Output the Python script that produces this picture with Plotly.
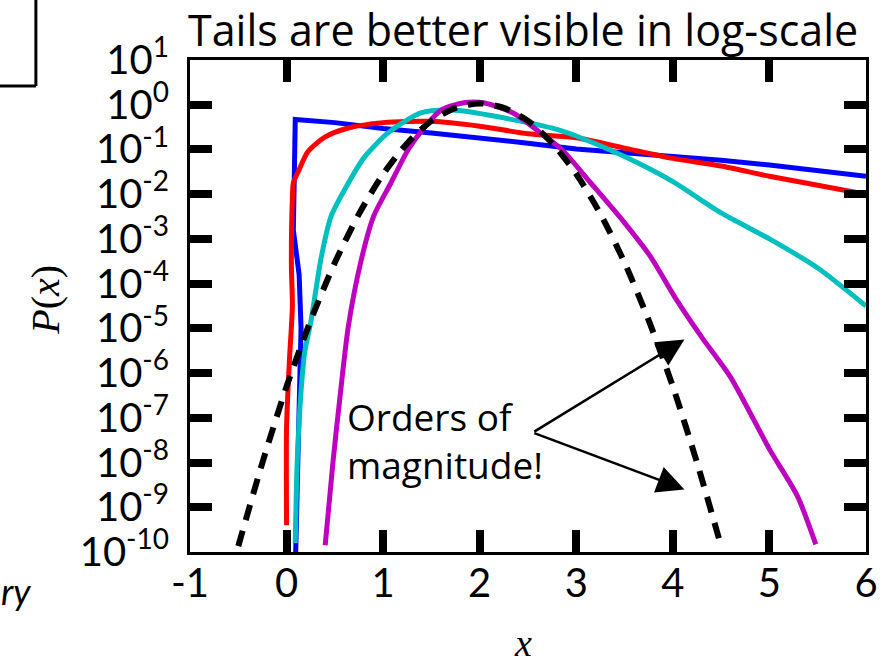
import plotly.graph_objects as go

# ---- data: x positions and log10 of P(x) for each curve ----
blue_x = [0.09, 0.12, 0.15, 0.13, 0.07, 0.08, 0.09, 0.5, 1.0, 1.5, 2.0, 2.5, 3.0, 3.5, 4.0, 4.5, 5.0, 5.5, 6.0]
blue_logp = [-10.4, -7.0, -5.0, -3.8, -2.8, -1.6, -0.33, -0.40, -0.53, -0.63, -0.74, -0.86, -0.99, -1.07, -1.15,
             -1.24, -1.35, -1.47, -1.60]

red_x = [0.0, 0.0, 0.03, 0.06, 0.05, 0.06, 0.07, 0.12, 0.22, 0.4, 0.64, 1.0, 1.5, 2.0, 2.5, 3.0, 3.5, 4.0, 4.5,
         5.0, 5.5, 6.0]
red_logp = [-9.4, -7.2, -5.7, -4.5, -3.6, -2.1, -1.75, -1.5, -1.05, -0.72, -0.52, -0.40, -0.37, -0.48, -0.65,
            -0.74, -0.97, -1.20, -1.37, -1.60, -1.80, -2.00]

cyan_x = [0.09, 0.11, 0.15, 0.19, 0.25, 0.36, 0.46, 0.64, 0.81, 1.05, 1.39, 1.72, 2.19, 2.8, 3.0, 3.5, 4.0, 4.5,
          5.0, 5.5, 6.0]
cyan_logp = [-9.8, -8.0, -6.4, -5.5, -4.87, -3.4, -2.5, -1.75, -1.16, -0.63, -0.18, -0.12, -0.27, -0.55, -0.70,
             -1.16, -1.72, -2.42, -3.0, -3.65, -4.50]

magenta_x = [0.4, 0.48, 0.56, 0.64, 0.77, 0.9, 1.08, 1.26, 1.43, 1.6, 1.85, 2.05, 2.36, 2.63, 2.85, 3.15, 3.5,
             3.77, 4.02, 4.3, 4.6, 5.0, 5.29, 5.48]
magenta_logp = [-9.85, -8.0, -6.4, -4.95, -3.5, -2.5, -1.75, -1.0, -0.5, -0.12, 0.05, 0.04, -0.2, -0.63, -1.0,
                -1.75, -2.64, -3.4, -4.3, -5.2, -6.1, -7.7, -8.75, -9.83]

gauss_x = [-0.5, -0.25, 0.0, 0.25, 0.5, 0.75, 1.0, 1.25, 1.5, 1.75, 2.0, 2.25, 2.5, 2.75, 3.0, 3.25, 3.5, 3.75,
           4.0, 4.25, 4.5]
gauss_logp = [-9.87, -8.0, -6.3, -4.82, -3.53, -2.44, -1.55, -0.86, -0.36, -0.07, 0.03, -0.07, -0.36, -0.86,
              -1.55, -2.44, -3.53, -4.82, -6.3, -8.0, -9.87]

x_ticks = [-1, 0, 1, 2, 3, 4, 5, 6]
x_ticklabels = ["-1", "0", "1", "2", "3", "4", "5", "6"]
y_exponents = [1, 0, -1, -2, -3, -4, -5, -6, -7, -8, -9, -10]

title_text = "Tails are better visible in log-scale"
note_text = "Orders of<br>magnitude!"

SANS = "Lato"
WIDE_SANS = "Open Sans"
SERIF = "Liberation Serif"

fig = go.Figure()

curves = [
    (blue_x, blue_logp, "#0000FF", "solid", "linear"),
    (red_x, red_logp, "#FF0000", "solid", "spline"),
    (cyan_x, cyan_logp, "#00BFBF", "solid", "spline"),
    (magenta_x, magenta_logp, "#BF00BF", "solid", "spline"),
    (gauss_x, gauss_logp, "#000000", "16px,11px", "spline"),
]
for xs, logs, color, dash, shape in curves:
    fig.add_trace(go.Scatter(
        x=xs, y=[10 ** v for v in logs], mode="lines",
        line=dict(color=color, width=5 if dash == "solid" else 6, dash=dash,
                  shape=shape, smoothing=0.7),
        hoverinfo="skip", showlegend=False,
    ))

axis_common = dict(
    ticks="inside", ticklen=22, tickwidth=8, tickcolor="black",
    showline=True, linewidth=3, linecolor="black", mirror="ticks",
    showgrid=False, zeroline=False,
    tickfont=dict(family=SANS, size=40, color="black"),
)

fig.update_xaxes(range=[-1, 6], tickmode="array", tickvals=x_ticks, ticktext=x_ticklabels,
                 ticklabelstandoff=-6, **axis_common)
fig.update_yaxes(type="log", range=[-10, 1], tickmode="array",
                 tickvals=[10 ** e for e in y_exponents],
                 ticktext=[f"10<sup>{e}</sup>" for e in y_exponents],
                 ticklabelstandoff=10, **axis_common)

annotations = [
    dict(text=title_text, xref="paper", yref="paper", x=-0.006, y=1.062, xanchor="left",
         yanchor="middle", showarrow=False, font=dict(family=WIDE_SANS, size=43, color="black")),
    dict(text="<i>P</i>(<i>x</i>)", xref="paper", yref="paper", x=-0.215, y=0.512, textangle=-90,
         xanchor="center", yanchor="middle", showarrow=False,
         font=dict(family=SERIF, size=40, color="black")),
    dict(text="<i>x</i>", xref="paper", yref="paper", x=0.4926, y=-0.2317, xanchor="center",
         yanchor="bottom", showarrow=False, font=dict(family=SERIF, size=38, color="black")),
    dict(text="<i>ry</i>", xref="paper", yref="paper", x=-0.283, y=-0.08, xanchor="left",
         yanchor="middle", showarrow=False, font=dict(family=SANS, size=36, color="black")),
    dict(text=note_text, xref="x", yref="y", x=0.61, y=-7.5, xanchor="left", yanchor="middle",
         align="left", showarrow=False, font=dict(family=WIDE_SANS, size=37, color="black")),
]
for head_y in (-5.25, -8.6):
    annotations.append(dict(
        text="", xref="x", yref="y", x=4.12, y=head_y, axref="x", ayref="y", ax=2.55, ay=-7.33,
        showarrow=True, arrowhead=2, arrowsize=2.1, arrowwidth=2.6, arrowcolor="black", standoff=0,
    ))

fig.update_layout(
    width=895, height=664,
    margin=dict(l=190, r=29, t=60, b=112),
    paper_bgcolor="white", plot_bgcolor="white",
    annotations=annotations,
    shapes=[
        dict(type="line", xref="paper", yref="paper", x0=-0.3, x1=-0.228, y0=0.947, y1=0.947,
             line=dict(color="black", width=3)),
        dict(type="line", xref="paper", yref="paper", x0=-0.228, x1=-0.228, y0=0.947, y1=1.13,
             line=dict(color="black", width=3)),
    ],
)

fig.write_html("out.html")
